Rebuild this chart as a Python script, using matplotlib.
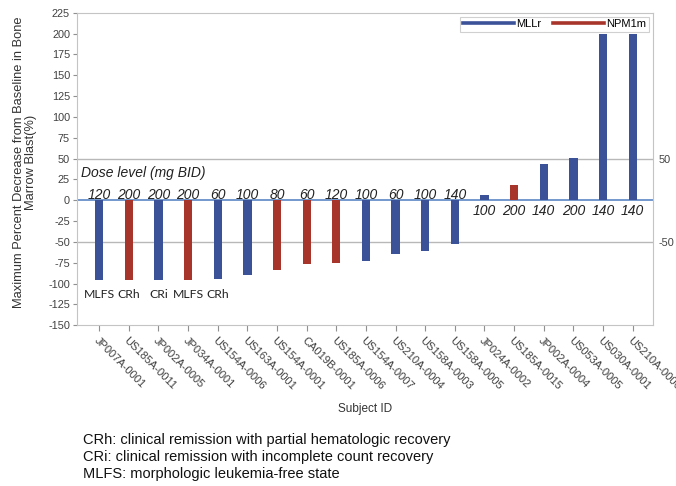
import matplotlib
matplotlib.use("Agg")
import matplotlib.pyplot as plt
from matplotlib.lines import Line2D
import numpy as np

plt.rcParams["font.family"] = ["Liberation Sans", "DejaVu Sans"]
plt.rcParams["axes.unicode_minus"] = False

# data
subjects = ["JP007A-0001", "US185A-0011", "JP002A-0005", "JP034A-0001", "US154A-0006",
            "US163A-0001", "US154A-0001", "CA019B-0001", "US185A-0006", "US154A-0007",
            "US210A-0004", "US158A-0003", "US158A-0005", "JP024A-0002", "US185A-0015",
            "JP002A-0004", "US053A-0005", "US030A-0001", "US210A-0006"]
change = [-96, -96, -96, -96, -94, -90, -84, -77, -75, -73, -64, -61, -53,
          6, 18, 43, 51, 200, 200]
group = ["MLLr", "NPM1m", "MLLr", "NPM1m", "MLLr", "MLLr", "NPM1m", "NPM1m", "NPM1m",
         "MLLr", "MLLr", "MLLr", "MLLr", "MLLr", "NPM1m", "MLLr", "MLLr", "MLLr", "MLLr"]
dose = [120, 200, 200, 200, 60, 100, 80, 60, 120, 100, 60, 100, 140,
        100, 200, 140, 200, 140, 140]
response = ["MLFS", "CRh", "CRi", "MLFS", "CRh"]
footnotes = ["CRh: clinical remission with partial hematologic recovery",
             "CRi: clinical remission with incomplete count recovery",
             "MLFS: morphologic leukemia-free state"]

colors = {"MLLr": "#3b5198", "NPM1m": "#a8352b"}
txt = "#404040"

fig = plt.figure(figsize=(6.76, 4.86), dpi=100)
ax = fig.add_axes([0.1139, 0.3307, 0.8516, 0.6432])

x = np.arange(len(subjects))
ax.bar(x, change, width=0.28, color=[colors[g] for g in group], zorder=3)

ax.set_xlim(-0.75, len(subjects) - 1 + 0.675)
ax.set_ylim(-150, 225)
ax.set_yticks(np.arange(-150, 226, 25))
ax.axhline(0, color="#5b86c4", lw=1.2, zorder=2)
for yy in (50, -50):
    ax.axhline(yy, color="#b8b8b8", lw=1, zorder=1)

for s in ax.spines.values():
    s.set_color("#c4c4c4")
ax.tick_params(axis="y", labelsize=7.8, colors="#909090", labelcolor=txt, length=3, pad=2)
ax.tick_params(axis="x", labelsize=8, colors="#909090", labelcolor=txt, length=4)
ax.set_xticks(x)
ax.set_xticklabels(subjects, rotation=-45, ha="left", va="top", rotation_mode="anchor")

ax2 = ax.twinx()
ax2.set_ylim(ax.get_ylim())
ax2.set_yticks([-50, 50])
ax2.tick_params(axis="y", labelsize=7.8, length=0, pad=4, labelcolor=txt)
for s in ax2.spines.values():
    s.set_visible(False)

# dose labels
for xi, v, d in zip(x, change, dose):
    yy = 6.5 if v < 0 else -13
    ax.text(xi, yy, str(d), ha="center", va="center", fontsize=10,
            style="italic", color="#222222", zorder=4)
ax.text(-0.6, 33, "Dose level (mg BID)", ha="left", va="center", fontsize=10,
        style="italic", color="#222222")

for xi, r in zip(x, response):
    ax.text(xi, -112.5, r, ha="center", va="center", fontsize=8.8,
            family="Lato", color="#222222")

ax.set_ylabel("Maximum Percent Decrease from Baseline in Bone\nMarrow Blast(%)",
              fontsize=9.3, color="#333333", linespacing=1.0)
ax.yaxis.set_label_coords(-0.07, 0.52)
ax.set_xlabel("Subject ID", fontsize=8.5, color="#333333", labelpad=8)

handles = [Line2D([0], [0], color=colors["MLLr"], lw=2.6),
           Line2D([0], [0], color=colors["NPM1m"], lw=2.6)]
leg = ax.legend(handles, ["MLLr", "NPM1m"], loc="upper right", ncol=2, fontsize=8,
                handlelength=4.6, handletextpad=0.15, columnspacing=1.1,
                borderpad=0.25, borderaxespad=0.35, fancybox=False, framealpha=1)
leg.get_frame().set_edgecolor("#d0d0d0")
leg.get_frame().set_linewidth(0.8)

for i, line in enumerate(footnotes):
    fig.text(83 / 676, 1 - (440 + 17 * i) / 486, line, fontsize=10.5,
             color="#111111", va="center", ha="left")

fig.savefig("out.png", dpi=100)
